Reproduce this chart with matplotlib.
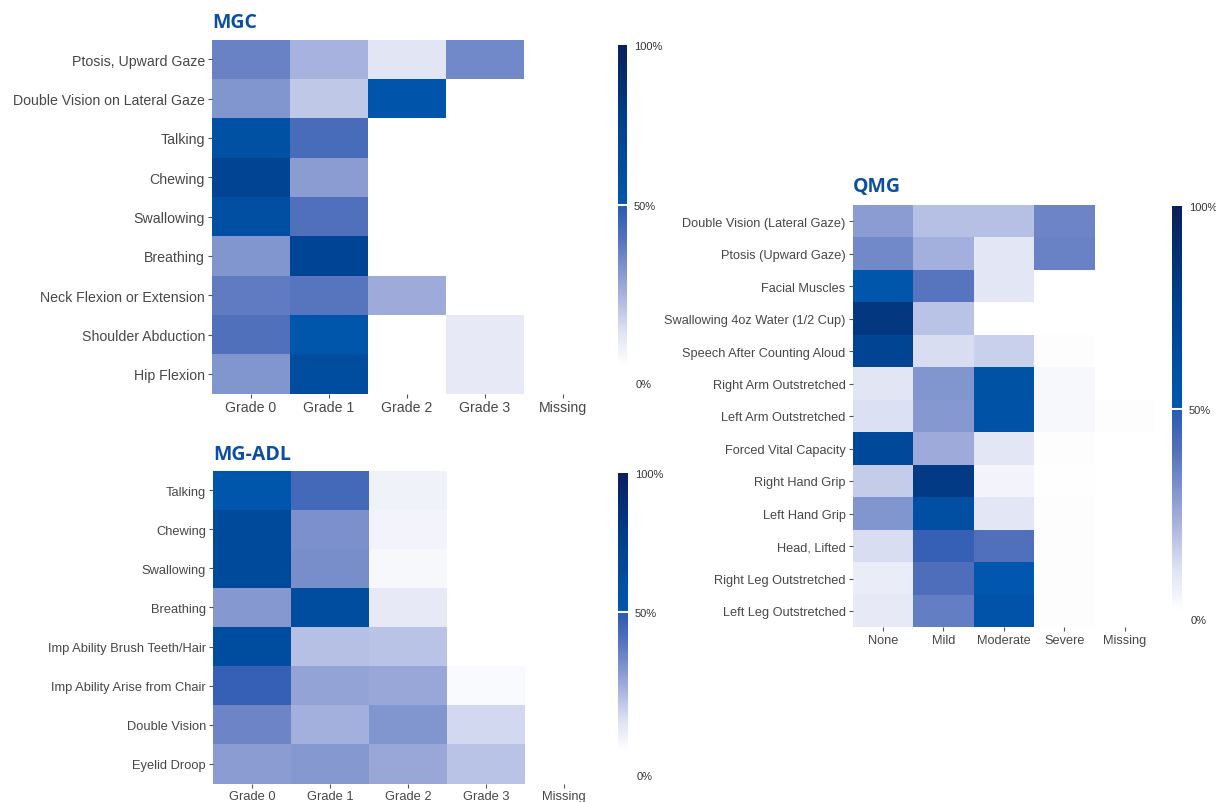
import numpy as np
import matplotlib
matplotlib.use("Agg")
import matplotlib.pyplot as plt
from matplotlib.colors import LinearSegmentedColormap

# ---------------- data (percent of patients) ----------------
mgc_rows = ["Ptosis, Upward Gaze", "Double Vision on Lateral Gaze", "Talking", "Chewing",
            "Swallowing", "Breathing", "Neck Flexion or Extension", "Shoulder Abduction", "Hip Flexion"]
mgc_cols = ["Grade 0", "Grade 1", "Grade 2", "Grade 3", "Missing"]
mgc_values = [
    [35, 22, 10, 33, 0],
    [30, 17, 53, 0, 0],
    [58, 42, 0, 0, 0],
    [72, 28, 0, 0, 0],
    [60, 40, 0, 0, 0],
    [30, 70, 0, 0, 0],
    [37, 39, 24, 0, 0],
    [40, 52, 0, 8, 0],
    [30, 62, 0, 8, 0],
]

adl_rows = ["Talking", "Chewing", "Swallowing", "Breathing", "Imp Ability Brush Teeth/Hair",
            "Imp Ability Arise from Chair", "Double Vision", "Eyelid Droop"]
adl_cols = ["Grade 0", "Grade 1", "Grade 2", "Grade 3", "Missing"]
adl_values = [
    [52, 43, 5, 0, 0],
    [65, 31, 4, 0, 0],
    [65, 32, 3, 0, 0],
    [29, 63, 8, 0, 0],
    [63, 19, 18, 0, 0],
    [47, 26, 25, 2, 0],
    [34, 23, 30, 13, 0],
    [28, 29, 25, 18, 0],
]

qmg_rows = ["Double Vision (Lateral Gaze)", "Ptosis (Upward Gaze)", "Facial Muscles",
            "Swallowing 4oz Water (1/2 Cup)", "Speech After Counting Aloud", "Right Arm Outstretched",
            "Left Arm Outstretched", "Forced Vital Capacity", "Right Hand Grip", "Left Hand Grip",
            "Head, Lifted", "Right Leg Outstretched", "Left Leg Outstretched"]
qmg_cols = ["None", "Mild", "Moderate", "Severe", "Missing"]
qmg_values = [
    [28, 19, 19, 34, 0],
    [33, 23, 9, 35, 0],
    [52, 39, 9, 0, 0],
    [82, 18, 0, 0, 0],
    [72, 12, 15, 1, 0],
    [10, 30, 57, 3, 0],
    [11, 29, 56, 3, 1],
    [66, 24, 9, 1, 0],
    [16, 80, 4, 0.5, 0],
    [30, 60, 9, 1, 0],
    [12, 47, 40, 1, 0],
    [7, 41, 51, 1, 0],
    [8, 36, 55, 1, 0],
]

cbar_ticks = [0.5, 1.0]
cbar_ticklabels = ["50%", "100%"]

# ---------------- style ----------------
cmap = LinearSegmentedColormap.from_list("mgblue", [
    (0.00, "#ffffff"),
    (0.10, "#e0e4f4"),
    (0.25, "#98a6d8"),
    (0.40, "#5170bc"),
    (0.495, "#2c5bb2"),
    (0.50, "#0058ae"),
    (0.75, "#00418f"),
    (1.00, "#0b1f5c"),
])

W, H = 1216, 803
fig = plt.figure(figsize=(W / 100, H / 100), dpi=100)
fig.patch.set_facecolor("white")

LABEL_FONT = "Liberation Sans"
TITLE_COLOR = "#0b4ea2"
TEXT_COLOR = "#474747"


def fbox(left, top, right, bottom):
    return [left / W, 1 - bottom / H, (right - left) / W, (bottom - top) / H]


def heat(box, rows, cols, values, title, fs):
    ax = fig.add_axes(fbox(*box))
    arr = np.array(values, dtype=float) / 100.0
    ax.pcolormesh(np.arange(len(cols) + 1), np.arange(len(rows) + 1), arr,
                  cmap=cmap, vmin=0, vmax=1, edgecolors="none", antialiased=False)
    ax.set_xlim(0, len(cols))
    ax.set_ylim(len(rows), 0)
    ax.set_xticks(np.arange(len(cols)) + 0.5)
    ax.set_xticklabels(cols, fontsize=fs, color=TEXT_COLOR, family=LABEL_FONT)
    ax.set_yticks(np.arange(len(rows)) + 0.5)
    ax.set_yticklabels(rows, fontsize=fs, color=TEXT_COLOR, family=LABEL_FONT)
    ax.tick_params(length=3, width=0.8, color="#555555", pad=2)
    for s in ax.spines.values():
        s.set_visible(False)
    ax.set_facecolor("white")
    ax.text(0, 1.02, title, transform=ax.transAxes, ha="left", va="bottom",
            fontsize=14, fontweight="bold", color=TITLE_COLOR, family="Open Sans")
    return ax


def cbar(box, zero_y):
    cax = fig.add_axes(fbox(*box))
    sm = matplotlib.cm.ScalarMappable(cmap=cmap, norm=matplotlib.colors.Normalize(0, 1))
    cb = fig.colorbar(sm, cax=cax, ticks=cbar_ticks)
    cb.outline.set_visible(False)
    cb.ax.set_yticklabels(cbar_ticklabels, fontsize=8, color="#333333", family=LABEL_FONT)
    cb.ax.tick_params(length=0, pad=5)
    cax.axhline(0.5, color="white", lw=1.5)
    fig.text((box[2] + 9) / W, 1 - zero_y / H, "0%", fontsize=8, color="#333333",
             family=LABEL_FONT, va="center", ha="left")
    return cb


heat((212, 40.5, 602, 394.5), mgc_rows, mgc_cols, mgc_values, "MGC", 10.2)
cbar((618, 46, 627, 366), 385)

heat((213, 471.5, 603, 784.5), adl_rows, adl_cols, adl_values, "MG-ADL", 9.3)
cbar((618, 474, 628, 752), 777)

heat((852.5, 205.75, 1155, 628.25), qmg_rows, qmg_cols, qmg_values, "QMG", 9.2)
cbar((1172, 207, 1182, 613), 621)

fig.savefig("out.png", dpi=100, facecolor="white")
